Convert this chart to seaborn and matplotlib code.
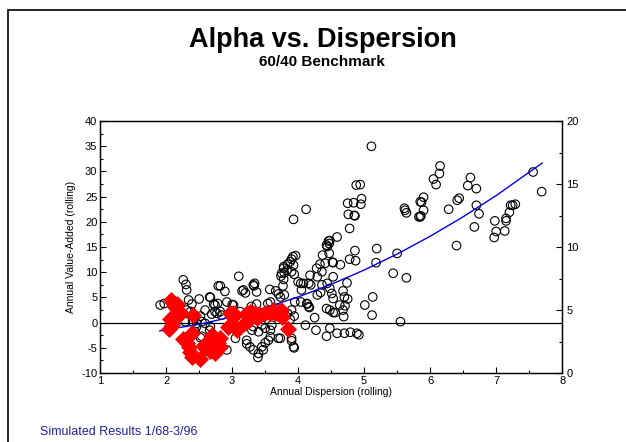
import matplotlib
matplotlib.use("Agg")
import matplotlib.pyplot as plt
from matplotlib.patches import Rectangle
from matplotlib.ticker import MultipleLocator
import seaborn as sns
import pandas as pd

# ---- data ----
circle_x = [
    1.91, 1.97, 2.26, 2.30, 2.31, 2.34, 2.39, 2.50, 2.66, 2.72, 2.79,
    2.31, 2.37, 2.40, 2.52, 2.59, 2.69, 2.29, 2.40, 2.46, 2.59, 2.66, 2.54,
    2.44, 2.54, 2.46, 2.52, 2.67, 2.74, 2.77, 2.74, 2.67,
    2.82, 2.89, 2.92, 3.00, 2.78, 2.82, 2.84, 3.12, 3.02,
    3.10, 3.34, 3.32, 3.17, 3.20, 3.15, 3.37, 3.33,
    3.57, 3.66, 3.74, 3.75, 3.78, 3.73, 3.70,
    3.29, 3.37, 3.54, 3.58, 3.62, 3.67, 3.70,
    3.30, 3.40, 3.50, 3.58, 3.45, 3.60, 3.32,
    3.05, 3.70, 3.22, 3.27, 3.32, 3.45, 3.50, 3.55, 3.47, 3.40, 3.39, 2.92,
    3.22, 3.58,
    3.92, 3.90, 3.88, 3.84, 3.93, 3.78, 3.83, 3.90, 3.79, 3.94, 3.78, 4.00,
    4.04, 4.05, 3.77, 3.79, 4.19, 4.29, 4.18, 3.96,
    3.93, 4.12,
    4.46, 4.43, 4.37, 4.47, 4.52, 4.41, 4.33, 4.28, 4.36, 4.64, 4.59, 4.47, 4.44,
    4.36, 4.44, 4.48, 4.51, 4.53, 4.29, 4.34, 4.48, 4.56, 4.08, 4.16, 4.13, 4.16,
    3.95, 4.04, 3.90, 3.84, 3.94, 3.88, 4.14, 4.17, 4.25, 4.43,
    4.11, 4.27, 4.43, 3.90, 3.93, 3.94, 3.73, 3.90, 4.48,
    5.11, 4.88, 4.94, 4.75, 4.84, 4.96, 4.95, 4.76, 4.85, 4.86, 4.78, 4.48,
    4.86, 4.78, 4.87, 4.53, 5.19, 5.18, 5.50, 5.44, 5.64, 5.61, 5.62, 5.64,
    5.85, 5.83, 5.13, 5.01, 5.12, 5.55, 4.74, 4.68, 4.70, 4.75, 4.63, 4.71,
    4.68, 4.69, 4.53, 4.53, 4.59, 4.70, 4.79, 4.89, 4.92,
    6.15, 6.14, 6.05, 6.09, 5.90, 5.87, 5.90, 5.85, 5.86, 6.28, 6.41, 6.44,
    6.61, 6.57, 6.70, 6.70, 6.74, 6.67, 6.40, 6.98, 7.00, 6.97, 7.13, 7.15,
    7.15, 7.20, 7.22, 7.25, 7.29, 7.56, 7.69,
]
circle_y = [
    3.5, 3.8, 8.5, 7.6, 6.5, 4.5, 3.7, 4.7, 5.1, 3.7, 7.3,
    2.5, 2.2, 1.3, 1.3, 2.5, 1.7, 0.2, 0.2, -0.8, -0.15, -1.5, -2.7,
    -1.8, 0.2, -0.15, -3.0, -0.8, 2.2, 1.85, 3.5, 5.0,
    7.3, 6.2, 4.1, 3.6, 3.8, 2.2, 1.5, 2.2, 3.5,
    9.2, 7.8, 7.5, 6.5, 5.9, 6.3, 6.1, 7.3,
    6.6, 6.3, 9.25, 9.8, 10.8, 5.1, 5.7,
    3.2, 3.7, 3.8, 4.1, 2.2, 2.8, 1.2,
    -1.5, -1.8, -1.1, -1.5, -0.5, -0.5, -0.8,
    -3.1, -3.1, -4.2, -4.8, -5.4, -4.8, -4.0, -3.5, -5.4, -6.1, -6.9, -5.4,
    -3.5, -2.8,
    13.1, 12.6, 12.1, 11.6, 11.4, 11.1, 10.4, 10.1, 9.9, 9.6, 8.6, 8.1,
    7.8, 6.5, 7.3, 5.5, 7.5, 9.1, 9.4, 13.3,
    20.5, 22.5,
    16.2, 15.4, 13.4, 13.75, 12.0, 11.8, 11.6, 10.8, 10.1, 11.5, 17.0, 15.7, 15.1,
    7.5, 7.8, 6.8, 5.8, 4.8, 5.5, 6.0, 2.5, 2.0, 7.8, 7.8, 3.8, 3.2,
    4.1, 4.1, 2.5, 1.85, 1.3, 0.65, 3.7, 3.0, 1.0, 2.8,
    -0.5, -1.5, -2.7, -3.1, -4.8, -5.0, -3.1, -3.6, -1.1,
    35.0, 27.3, 27.4, 23.7, 23.8, 24.6, 23.5, 21.5, 21.3, 21.2, 18.7, 16.3,
    14.3, 12.6, 12.3, 11.9, 14.7, 11.9, 13.75, 9.8, 8.9, 22.7, 22.3, 21.8,
    24.0, 21.0, 5.1, 3.5, 1.5, 0.2, 7.9, 6.3, 5.1, 4.7, 3.5, 3.35,
    2.5, 1.2, 2.0, 9.1, -2.1, -2.1, -1.9, -2.1, -2.4,
    31.1, 29.6, 28.5, 27.4, 24.9, 23.9, 22.3, 21.0, 21.2, 22.5, 24.3, 24.7,
    28.8, 27.2, 26.6, 23.3, 21.6, 19.0, 15.3, 20.2, 18.1, 16.9, 18.2, 20.2,
    20.7, 21.9, 23.3, 23.3, 23.5, 29.9, 26.0,
]

diamond_x = [
    2.08, 2.11, 2.16, 2.16, 2.06, 2.14, 2.09, 2.04, 2.22, 2.41, 2.39, 2.26,
    2.31, 2.34, 2.36, 2.39, 2.52, 2.57, 2.64, 2.69, 2.72, 2.66, 2.74, 2.59,
    2.81, 2.79, 2.82, 2.94, 3.05, 3.01, 2.97, 3.02, 3.07, 3.20, 3.22, 3.22,
    3.27, 3.25, 3.35, 3.37, 3.42, 3.50, 3.58, 3.62, 3.65, 3.74, 3.75, 3.73,
    3.85, 2.12,
]
diamond_y = [
    4.5, 4.0, 3.8, 2.8, 0.65, 0.85, -0.5, -1.2, 1.85, 1.5, -2.1, -3.2,
    -4.1, -4.8, -5.8, -6.8, -7.2, -4.4, -3.8, -2.5, -4.9, -5.6, -6.1, -5.1,
    -4.9, -4.1, -3.1, -0.8, -0.8, 2.0, 1.85, 1.2, -1.5, -0.15, 1.5, 2.0,
    2.2, 0.5, 1.85, 0.85, 1.5, 2.0, 1.85, 2.5, 1.85, 2.5, 1.2, 2.2,
    -1.2, 3.3,
]

# fitted curve
fit_x = [1.9, 2.5, 3.0, 3.5, 4.0, 4.5, 5.0, 5.5, 6.0, 6.5, 7.0, 7.7]
fit_y = [-1.63, -0.32, 1.14, 2.95, 5.10, 7.60, 10.44, 13.62, 17.14, 21.01, 25.22, 31.70]

x_ticks = [1, 2, 3, 4, 5, 6, 7, 8]
y_ticks = [-10, -5, 0, 5, 10, 15, 20, 25, 30, 35, 40]
y2_ticks = [0, 5, 10, 15, 20]

title = "Alpha vs. Dispersion"
subtitle = "60/40 Benchmark"
x_label = "Annual Dispersion (rolling)"
y_label = "Annual Value-Added (rolling)"
footnote = "Simulated Results 1/68-3/96"

# ---- plot ----
sns.set_style("ticks")
plt.rcParams["font.family"] = ["Liberation Sans", "DejaVu Sans"]
plt.rcParams["axes.unicode_minus"] = False
plt.rcParams["text.color"] = "black"
plt.rcParams["axes.labelcolor"] = "black"
plt.rcParams["xtick.color"] = "black"
plt.rcParams["ytick.color"] = "black"

fig = plt.figure(figsize=(6.26, 4.42), dpi=100)
ax = fig.add_axes([0.16, 0.156, 0.738, 0.57])

circles = pd.DataFrame({"x": circle_x, "y": circle_y})
diamonds = pd.DataFrame({"x": diamond_x, "y": diamond_y})
fit = pd.DataFrame({"x": fit_x, "y": fit_y})

sns.scatterplot(data=circles, x="x", y="y", ax=ax, marker="o", s=38,
                facecolor="none", edgecolor="black", linewidth=0.8, zorder=2)
ax.axhline(0, color="black", lw=0.9, zorder=3)
sns.lineplot(data=fit, x="x", y="y", ax=ax, color="#0000ee", lw=1.0,
             zorder=3, sort=True)
sns.scatterplot(data=diamonds, x="x", y="y", ax=ax, marker="D", s=75,
                color="#ff0000", edgecolor="#ff0000", linewidth=0, zorder=4)

ax.set_xlim(1, 8)
ax.set_ylim(-10, 40)
ax.set_xticks(x_ticks)
ax.set_yticks(y_ticks)
ax.xaxis.set_minor_locator(MultipleLocator(0.5))
ax.yaxis.set_minor_locator(MultipleLocator(2.5))
ax.tick_params(which="both", direction="in", labelsize=8, pad=2, width=0.8,
               colors="black")
ax.tick_params(which="major", length=4)
ax.tick_params(which="minor", length=2.5)
ax.set_xlabel(x_label, fontsize=7.5, labelpad=1, color="black")
ax.set_ylabel(y_label, fontsize=7.5, labelpad=4, color="black")
for sp in ax.spines.values():
    sp.set_linewidth(0.9)
    sp.set_color("black")

ax2 = ax.twinx()
ax2.set_ylim(0, 20)
ax2.set_yticks(y2_ticks)
ax2.yaxis.set_minor_locator(MultipleLocator(2.5))
ax2.tick_params(which="both", direction="in", labelsize=8, pad=3, width=0.8,
                colors="black")
ax2.tick_params(which="major", length=4)
ax2.tick_params(which="minor", length=2.5)
for sp in ax2.spines.values():
    sp.set_linewidth(0.9)
    sp.set_color("black")

fig.text(0.515, 0.909, title, ha="center", va="center", fontsize=19.5,
         fontweight="bold", color="black")
fig.text(0.515, 0.86, subtitle, ha="center", va="center", fontsize=11,
         fontweight="bold", color="black")
fig.text(0.064, 0.022, footnote, ha="left", va="center", fontsize=9,
         color="#2222a0")

fig.add_artist(Rectangle((8 / 626, -0.2), 1.2, 1 - 10 / 442 + 0.2,
                         transform=fig.transFigure, fill=False,
                         edgecolor="black", lw=1.2))

fig.savefig("out.png", dpi=100)
